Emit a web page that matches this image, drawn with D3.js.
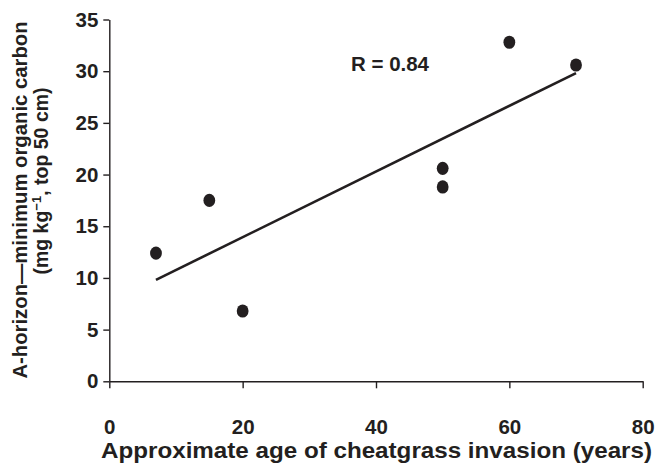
<!DOCTYPE html>
<html>
<head>
<meta charset="utf-8">
<script src="https://cdn.jsdelivr.net/npm/d3@7"></script>
<style>
	body { margin: 0; background: #fff; }
	svg text { font-family: "Liberation Sans", Arial, sans-serif; font-weight: bold; fill: #231f20; }
	.axis path, .axis line { stroke: #231f20; stroke-width: 1.4; }
</style>
</head>
<body>
<svg width="655" height="466"></svg>
<script>
// data
const ages = [7, 15, 20, 50, 50, 60, 70];
const carbon = [12.4, 17.5, 6.8, 20.6, 18.8, 32.8, 30.6];
const xTicks = [0, 20, 40, 60, 80];
const yTicks = [0, 5, 10, 15, 20, 25, 30, 35];
const rLabel = "R = 0.84";

const svg = d3.select("svg");

const x = d3.scaleLinear()
	.domain([0, 80])
	.range([109.3, 642.7]);

const y = d3.scaleLinear()
	.domain([0, 35])
	.range([381.3, 19.5]);

const xAxis = d3.axisBottom(x)
	.tickValues(xTicks)
	.tickSize(7)
	.tickSizeOuter(0)
	.tickPadding(31);

const yAxis = d3.axisLeft(y)
	.tickValues(yTicks)
	.tickSize(6)
	.tickSizeOuter(0)
	.tickPadding(6);

svg.append("g")
	.attr("class", "x axis")
	.attr("transform", "translate(0," + y(0) + ")")
	.call(xAxis)
	.selectAll("text")
	.style("font-size", "20.5px");

svg.append("g")
	.attr("class", "y axis")
	.attr("transform", "translate(" + x(0) + ",0)")
	.call(yAxis)
	.selectAll("text")
	.style("font-size", "20.5px")
	.attr("dx", 1);

svg.selectAll(".axis text").attr("fill", "#231f20");

// least squares fit line through the points
const n = ages.length,
	mx = d3.mean(ages),
	my = d3.mean(carbon);
let sxy = 0, sxx = 0;
for (let i = 0; i < n; i++) {
	sxy += (ages[i] - mx) * (carbon[i] - my);
	sxx += (ages[i] - mx) * (ages[i] - mx);
}
const slope = sxy / sxx,
	intercept = my - slope * mx;
const fitX = d3.extent(ages);

svg.append("line")
	.attr("x1", x(fitX[0]))
	.attr("y1", y(intercept + slope * fitX[0]))
	.attr("x2", x(fitX[1]))
	.attr("y2", y(intercept + slope * fitX[1]))
	.attr("stroke", "#231f20")
	.attr("stroke-width", 2.6);

svg.selectAll("ellipse")
	.data(ages)
	.enter().append("ellipse")
	.attr("cx", function(d) { return x(d); })
	.attr("cy", function(d, i) { return y(carbon[i]); })
	.attr("rx", 5.9)
	.attr("ry", 6.6)
	.attr("fill", "#231f20");

svg.append("text")
	.attr("x", 351)
	.attr("y", 71)
	.attr("textLength", 78)
	.attr("lengthAdjust", "spacingAndGlyphs")
	.style("font-size", "20px")
	.text(rLabel);

// axis titles
svg.append("text")
	.attr("x", 101)
	.attr("y", 458)
	.attr("textLength", 551)
	.attr("lengthAdjust", "spacingAndGlyphs")
	.style("font-size", "22px")
	.text("Approximate age of cheatgrass invasion (years)");

svg.append("text")
	.attr("transform", "translate(27,200) rotate(-90)")
	.attr("text-anchor", "middle")
	.style("font-size", "20.3px")
	.text("A-horizon\u2014minimum organic carbon");

const t2 = svg.append("text")
	.attr("transform", "translate(48,181) rotate(-90)")
	.attr("text-anchor", "middle")
	.style("font-size", "19.5px");
t2.append("tspan").text("(mg kg");
t2.append("tspan").attr("dy", -7).style("font-size", "13px").text("\u22121");
t2.append("tspan").attr("dy", 7).text(", top 50 cm)");
</script>
</body>
</html>
